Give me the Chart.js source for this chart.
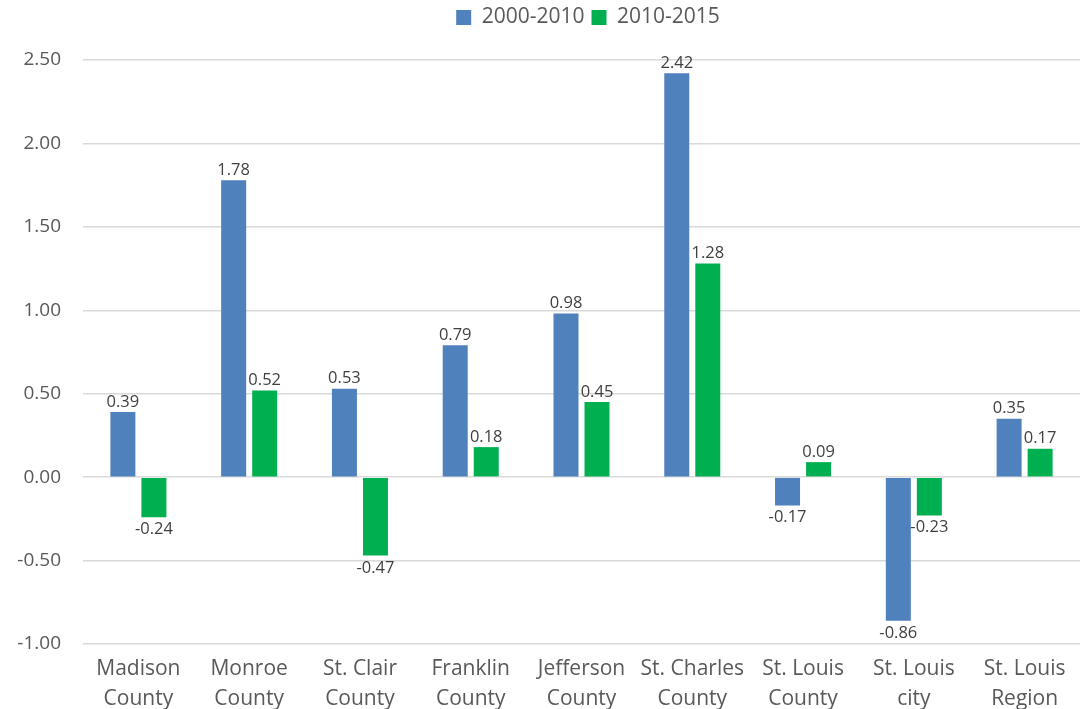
<!DOCTYPE html>
<html lang="en">
<head>
  <meta charset="UTF-8">
  <title>Population change</title>
  <script src="https://cdn.jsdelivr.net/npm/chart.js"></script>
  <style>
    body { margin: 0; background: white; }
    #wrap { width: 1088px; height: 709px; }
  </style>
</head>
<body>
  <div id="wrap"><canvas id="grafico"></canvas></div>

  <script>
    const categorias = [
      ["Madison", "County"], ["Monroe", "County"], ["St. Clair", "County"],
      ["Franklin", "County"], ["Jefferson", "County"], ["St. Charles", "County"],
      ["St. Louis", "County"], ["St. Louis", "city"], ["St. Louis", "Region"]
    ];
    const serie2000 = [0.39, 1.78, 0.53, 0.79, 0.98, 2.42, -0.17, -0.86, 0.35];
    const serie2010 = [-0.24, 0.52, -0.47, 0.18, 0.45, 1.28, 0.09, -0.23, 0.17];
    const nomes = ["2000-2010", "2010-2015"];
    const cores = ["#4f81bd", "#00b050"];

    const fonte = "'Open Sans', 'Noto Sans', sans-serif";

    // rótulos de valor acima/abaixo das barras
    const rotulos = {
      id: "rotulos",
      afterDatasetsDraw(chart) {
        const ctx = chart.ctx;
        ctx.save();
        ctx.font = "16.5px " + fonte;
        ctx.fillStyle = "#404040";
        ctx.textAlign = "center";
        chart.data.datasets.forEach((ds, i) => {
          chart.getDatasetMeta(i).data.forEach((bar, j) => {
            const v = ds.data[j];
            if (v >= 0) {
              ctx.textBaseline = "bottom";
              ctx.fillText(v.toFixed(2), bar.x, bar.y - 2);
            } else {
              ctx.textBaseline = "top";
              ctx.fillText(v.toFixed(2), bar.x, bar.y + 4);
            }
          });
        });
        ctx.restore();
      }
    };

    // mais espaço abaixo da legenda e legenda um pouco à direita
    const ajusteLegenda = {
      id: "ajusteLegenda",
      beforeInit(chart) {
        const lg = chart.legend;
        const fit = lg.fit;
        lg.fit = function () {
          fit.apply(this, arguments);
          this.height += 22;
        };
        const draw = lg.draw;
        lg.draw = function () {
          this.ctx.save();
          this.ctx.translate(48, 0);
          draw.apply(this, arguments);
          this.ctx.restore();
        };
      }
    };

    new Chart(document.getElementById("grafico"), {
      type: "bar",
      data: {
        labels: categorias,
        datasets: [
          { label: nomes[0], data: serie2000, backgroundColor: cores[0] },
          { label: nomes[1], data: serie2010, backgroundColor: cores[1] }
        ]
      },
      options: {
        responsive: true,
        maintainAspectRatio: false,
        animation: false,
        layout: { padding: { left: 0, right: 8, top: 0, bottom: 0 } },
        datasets: { bar: { categoryPercentage: 0.56, barPercentage: 0.806 } },
        plugins: {
          legend: {
            position: "top",
            labels: {
              font: { family: fonte, size: 21 },
              color: "#595959",
              boxWidth: 15,
              boxHeight: 15,
              padding: 7
            }
          },
          tooltip: { enabled: false }
        },
        scales: {
          x: {
            grid: { display: false },
            border: { display: false },
            afterFit: s => { s.height = 65; },
            ticks: {
              padding: 2,
              font: { family: fonte, size: 21, lineHeight: 1.43 },
              color: "#595959",
              maxRotation: 0,
              autoSkip: false
            }
          },
          y: {
            min: -1,
            max: 2.5,
            grid: { color: "#d9d9d9", lineWidth: 1.5, drawTicks: false },
            border: { display: false },
            afterFit: s => { s.width = 83; },
            ticks: {
              stepSize: 0.5,
              padding: 22,
              font: { family: fonte, size: 19 },
              color: "#595959",
              callback: v => v.toFixed(2)
            }
          }
        }
      },
      plugins: [rotulos, ajusteLegenda]
    });
  </script>
</body>
</html>
